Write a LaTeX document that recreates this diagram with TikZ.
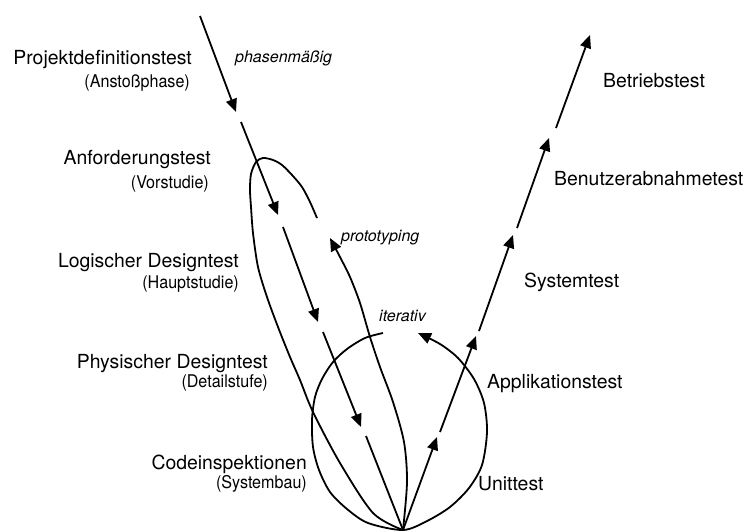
\documentclass[tikz,border=0pt]{standalone}
\usepackage{fontspec}
\setmainfont{TeX Gyre Heros}
\newfontfamily\subfont[FakeStretch=0.92]{TeX Gyre Heros}
\usetikzlibrary{arrows.meta}
\begin{document}
\begin{tikzpicture}[x=1pt,y=-1pt,
  lab/.style={font=\fontsize{19.4}{22}\selectfont, inner sep=0pt},
  sublab/.style={font=\subfont\fontsize{17.5}{20}\selectfont, inner sep=0pt},
  ital/.style={font=\itshape\fontsize{16}{19}\selectfont, inner sep=0pt},
  ln/.style={line width=1.8pt},
  arr/.style={ln, -{Triangle[length=13pt,width=11pt]}}]
\useasboundingbox (0,0) rectangle (746,531);

% labels, left side
\node[lab, anchor=base east] (pd) at (192,64) {Projektdefinitionstest};
\node[sublab, anchor=base east] (pds) at (190,87) {(Anstoßphase)};
\node[lab, anchor=base east] (an) at (211,164) {Anforderungstest};
\node[sublab, anchor=base east] (ans) at (209,188) {(Vorstudie)};
\node[lab, anchor=base east] (ld) at (239,267) {Logischer Designtest};
\node[sublab, anchor=base east] (lds) at (239,288) {(Hauptstudie)};
\node[lab, anchor=base east] (ph) at (268,368) {Physischer Designtest};
\node[sublab, anchor=base east] (phs) at (268,387) {(Detailstufe)};
\node[lab, anchor=base east] (ci) at (307,469) {Codeinspektionen};
\node[sublab, anchor=base east] (cis) at (307,488) {(Systembau)};

% labels, right side
\node[lab, anchor=base west] (bt) at (603,87) {Betriebstest};
\node[lab, anchor=base west] (ba) at (554,185) {Benutzerabnahmetest};
\node[lab, anchor=base west] (st) at (524,287) {Systemtest};
\node[lab, anchor=base west] (at) at (487,388) {Applikationstest};
\node[lab, anchor=base west] (ut) at (478,490) {Unittest};

% italic labels
\node[ital, anchor=base west] (pm) at (235,62) {phasenmäßig};
\node[ital, anchor=base west] (pt) at (341,241) {prototyping};
\node[ital, anchor=base west] (it) at (379,321) {iterativ};

% points
\coordinate (V) at (403,530);
\coordinate (d0) at (200,16);
\coordinate (d1) at (236,112);
\coordinate (d2) at (241,122);
\coordinate (d3) at (278,215);
\coordinate (d4) at (283,227);
\coordinate (d5) at (318,322);
\coordinate (d6) at (323,332);
\coordinate (d7) at (361,427);
\coordinate (d8) at (366,436);

\coordinate (u1) at (437,437);
\coordinate (u2) at (440,432);
\coordinate (u3) at (476,336);
\coordinate (u4) at (479,331);
\coordinate (u5) at (513,235);
\coordinate (u6) at (517,228);
\coordinate (u7) at (549,138);
\coordinate (u8) at (556,128);
\coordinate (u9) at (590,35);

\coordinate (p1) at (330,238);
\coordinate (p2) at (317,218);
\coordinate (c0) at (383,333);
\coordinate (c1) at (418,333);

% descending (phasenmaessig)
\draw[arr] (d0) -- (d1);
\draw[arr] (d2) -- (d3);
\draw[arr] (d4) -- (d5);
\draw[arr] (d6) -- (d7);
\draw[ln] (d8) -- (V);

% ascending
\draw[arr] (V) -- (u1);
\draw[arr] (u2) -- (u3);
\draw[arr] (u4) -- (u5);
\draw[arr] (u6) -- (u7);
\draw[arr] (u8) -- (u9);

% prototyping loop
\draw[arr] plot[smooth] coordinates {(V) (407,482) (404,442) (393,402) (380,367) (370,337) (360,303) (350,277) (340,257) (p1)};
\draw[ln] plot[smooth] coordinates {(p2) (310,202) (302,187) (292,175) (282,165) (273,160) (263,158) (256,162) (251,174) (250,190) (251,207) (253,233) (258,267) (267,297) (278,327) (290,357) (300,380) (313,412) (340,463) (373,513) (V)};

% iterative loop
\draw[arr] plot[smooth] coordinates {(c0) (365,338) (347,349) (333,362) (322,379) (315,397) (312,420) (313,447) (319,470) (330,492) (347,509) (368,523) (V) (427,521) (450,507) (469,488) (482,465) (487,432) (484,403) (474,379) (458,358) (440,344) (c1)};
\end{tikzpicture}
\end{document}
